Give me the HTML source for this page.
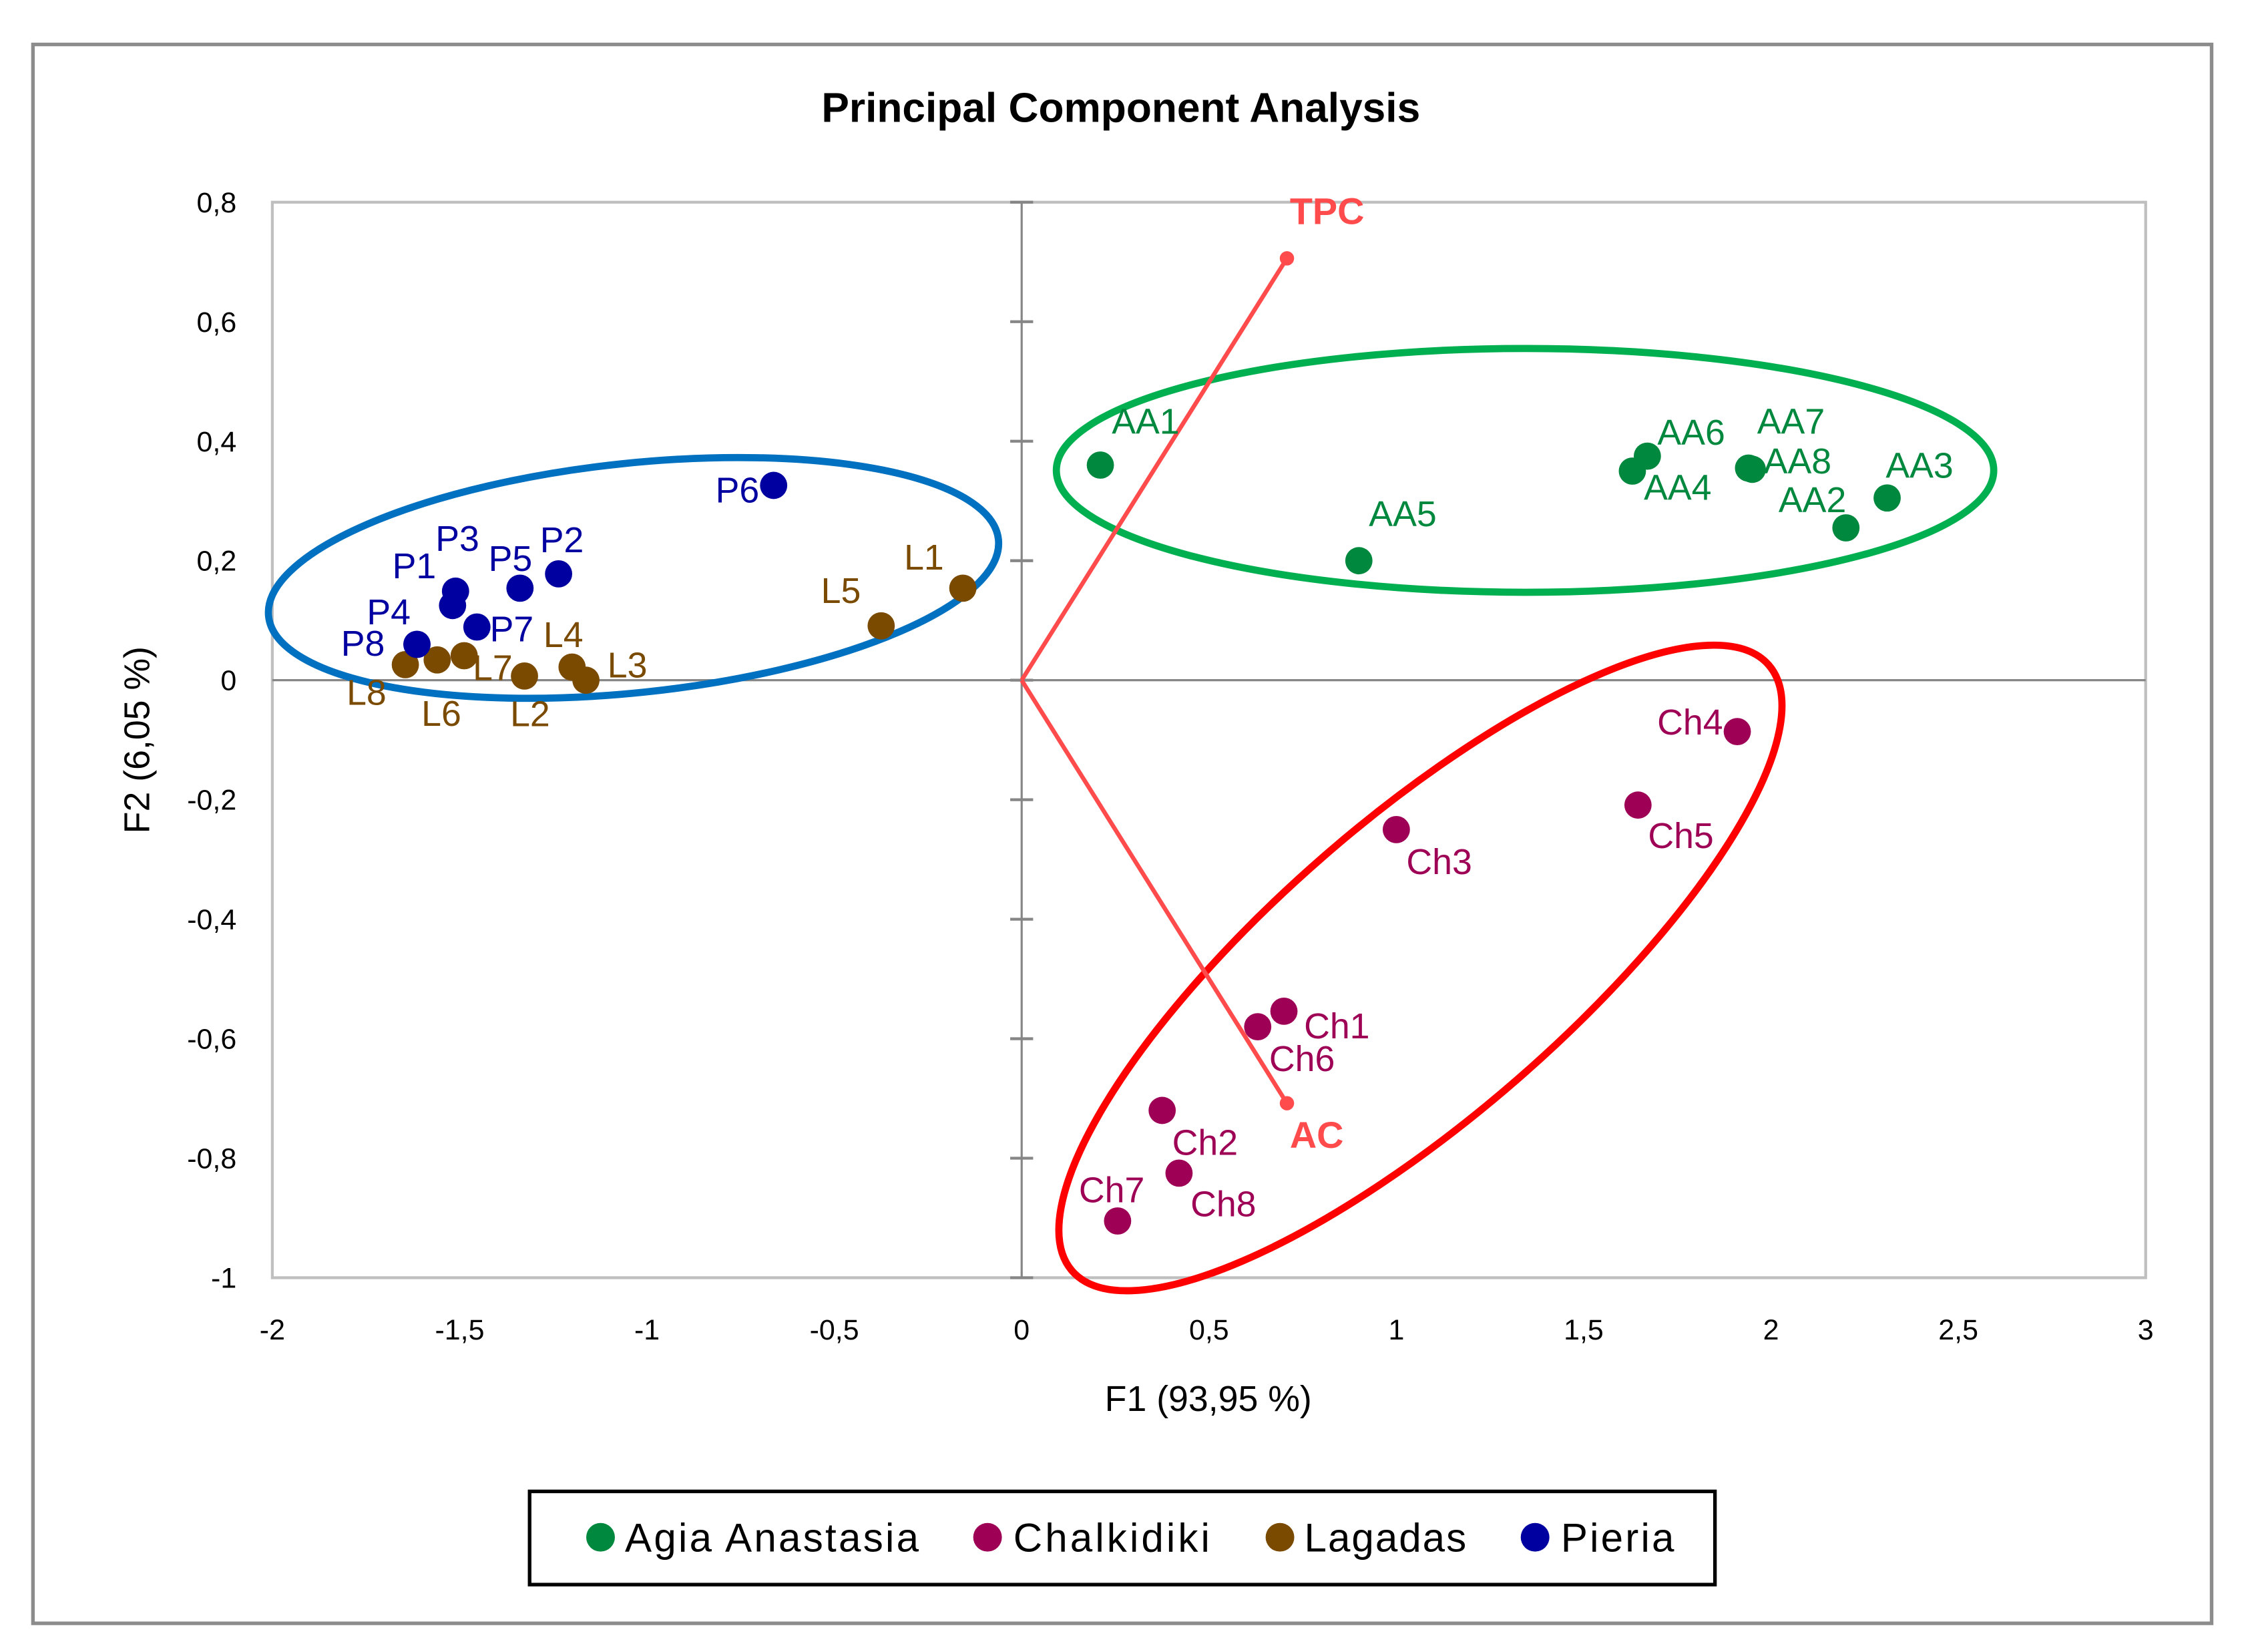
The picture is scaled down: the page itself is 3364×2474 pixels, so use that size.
<!DOCTYPE html>
<html><head><meta charset="utf-8"><style>
html,body{margin:0;padding:0;background:#fff;}
svg{display:block;}
text{font-family:"Liberation Sans",sans-serif;}
</style></head><body>
<svg id="chart" width="3364" height="2474" viewBox="0 0 1567 1152" preserveAspectRatio="none" xmlns="http://www.w3.org/2000/svg">
<rect x="23" y="31" width="1520" height="1101" fill="#fff" stroke="#8c8c8c" stroke-width="2.5"/>
<text x="782" y="85" text-anchor="middle" font-size="29" font-weight="bold">Principal Component Analysis</text>
<g id="plot"></g>
<text x="843" y="984" text-anchor="middle" font-size="25">F1 (93,95 %)</text>
<text transform="translate(104,516) rotate(-90)" text-anchor="middle" font-size="25">F2 (6,05 %)</text>
<g>
<rect x="369.5" y="1040" width="827" height="65" fill="#fff" stroke="#000" stroke-width="2.5"/>
<g><circle cx="419" cy="1072" r="10" fill="#00883E"/><text x="436" y="1082" font-size="28" textLength="205">Agia Anastasia</text></g>
<g><circle cx="689" cy="1072" r="10" fill="#9E0056"/><text x="707" y="1082" font-size="28" textLength="137">Chalkidiki</text></g>
<g><circle cx="893" cy="1072" r="10" fill="#7A4A00"/><text x="910" y="1082" font-size="28" textLength="113">Lagadas</text></g>
<g><circle cx="1071" cy="1072" r="10" fill="#0000A0"/><text x="1089" y="1082" font-size="28" textLength="79">Pieria</text></g>
</g>
</svg>
<script>
const xTicks=[-2,-1.5,-1,-0.5,0,0.5,1,1.5,2,2.5,3];
const yTicks=[-1,-0.8,-0.6,-0.4,-0.2,0,0.2,0.4,0.6,0.8];
const aaNames=["AA1","AA2","AA3","AA4","AA5","AA6","AA7","AA8"];
const aaX=[0.21,2.20,2.31,1.63,0.90,1.67,1.94,1.95];
const aaY=[0.36,0.255,0.305,0.35,0.20,0.375,0.355,0.353];
const chNames=["Ch1","Ch2","Ch3","Ch4","Ch5","Ch6","Ch7","Ch8"];
const chX=[0.70,0.375,1.0,1.91,1.645,0.63,0.256,0.42];
const chY=[-0.554,-0.72,-0.25,-0.086,-0.209,-0.58,-0.905,-0.825];
const lNames=["L1","L2","L3","L4","L5","L6","L7","L8"];
const lX=[-0.157,-1.327,-1.163,-1.20,-0.375,-1.56,-1.488,-1.645];
const lY=[0.154,0.007,0.0,0.022,0.091,0.034,0.041,0.026];
const pNames=["P1","P2","P3","P4","P5","P6","P7","P8"];
const pX=[-1.519,-1.236,-1.511,-1.614,-1.339,-0.662,-1.454,-1.614];
const pY=[0.125,0.178,0.149,0.06,0.154,0.326,0.089,0.06];
const varNames=["TPC","AC"];
const varX=[0.708,0.708];
const varY=[0.706,-0.708];

const L=190,R=1497,T=141,B=891;
const sx=v=>L+(v+2)/5*(R-L);
const sy=v=>B-(v+1)/1.8*(B-T);
const NS="http://www.w3.org/2000/svg";
const plot=document.getElementById('plot');
function mk(tag,attrs,parent){const e=document.createElementNS(NS,tag);for(const k in attrs)e.setAttribute(k,attrs[k]);(parent||plot).appendChild(e);return e;}

const frame=mk('rect',{x:L,y:T,width:R-L,height:B-T,fill:'none',stroke:'#BFBFBF','stroke-width':2});


const xl=mk('line',{x1:L,x2:R,y1:sy(0),y2:sy(0),stroke:'#868686','stroke-width':1.5});


const yl=mk('line',{x1:sx(0),x2:sx(0),y1:T,y2:B,stroke:'#868686','stroke-width':1.5});


yTicks.forEach(v=>{
  const tk=mk('line',{x1:sx(0)-8,x2:sx(0)+8,y1:sy(v),y2:sy(v),stroke:'#868686','stroke-width':2});
  
  
  const t=mk('text',{x:165,y:sy(v)+7,'text-anchor':'end','font-size':20});
  t.textContent=String(v).replace('.',',');
  
  
});
xTicks.forEach(v=>{
  const t=mk('text',{x:sx(v),y:934,'text-anchor':'middle','font-size':20});
  t.textContent=String(v).replace('.',',');
  
  
});

// ellipses
const e1=mk('ellipse',{cx:442,cy:403,rx:256,ry:80,fill:'none',stroke:'#0070C0','stroke-width':5,transform:'rotate(-6 442 403)'});


const e2=mk('ellipse',{cx:1064,cy:328,rx:327,ry:85,fill:'none',stroke:'#00B050','stroke-width':5});


const e3=mk('ellipse',{cx:991,cy:675,rx:322,ry:103,fill:'none',stroke:'#FF0000','stroke-width':5,transform:'rotate(-41 991 675)'});



// variable vectors
varNames.forEach((n,i)=>{
  const ln=mk('line',{x1:sx(0),y1:sy(0),x2:sx(varX[i]),y2:sy(varY[i]),stroke:'#FF4B4B','stroke-width':3});
  
  
  const c=mk('circle',{cx:sx(varX[i]),cy:sy(varY[i]),r:5,fill:'#FF4B4B'});
  
  
  const t=mk('text',{x:sx(varX[i])+2,y:sy(varY[i])+(varY[i]>0?-24:31),'font-size':26,'font-weight':'bold',fill:'#FF4B4B'});
  t.textContent=n;
  
  
});

const offs={AA1:[8,-22],AA2:[-47,-11],AA3:[-1,-14],AA4:[8,20],AA5:[7,-24],AA6:[7,-8],AA7:[6,-24],AA8:[8,3],
Ch1:[14,19],Ch2:[7,31],Ch3:[7,31],Ch4:[-10,2,'end'],Ch5:[7,30],Ch6:[8,31],Ch7:[-27,-13],Ch8:[8,30],
L1:[-41,-13],L2:[-10,35],L3:[15,-2],L4:[-20,-14],L5:[-42,-16],L6:[-11,46],L7:[6,17],L8:[-41,28],
P1:[-42,-19],P2:[-13,-15],P3:[-14,-28],P4:[-35,-14],P5:[-22,-12],P6:[-10,12,'end'],P7:[9,10],P8:[-53,8]};

function series(names,xs,ys,color,key){
  names.forEach((n,i)=>{
    const c=mk('circle',{cx:sx(xs[i]),cy:sy(ys[i]),r:9.5,fill:color});
    
    
  });
  names.forEach((n,i)=>{
    const o=offs[n]||[8,-10];
    const t=mk('text',{x:sx(xs[i])+o[0],y:sy(ys[i])+o[1],'font-size':25,fill:color,'text-anchor':o[2]||'start'});
    t.textContent=n;
    
    
  });
}
series(aaNames,aaX,aaY,'#00883E','aa');
series(chNames,chX,chY,'#9E0056','ch');
series(lNames,lX,lY,'#7A4A00','l');
series(pNames,pX,pY,'#0000A0','p');
</script>
</body></html>
